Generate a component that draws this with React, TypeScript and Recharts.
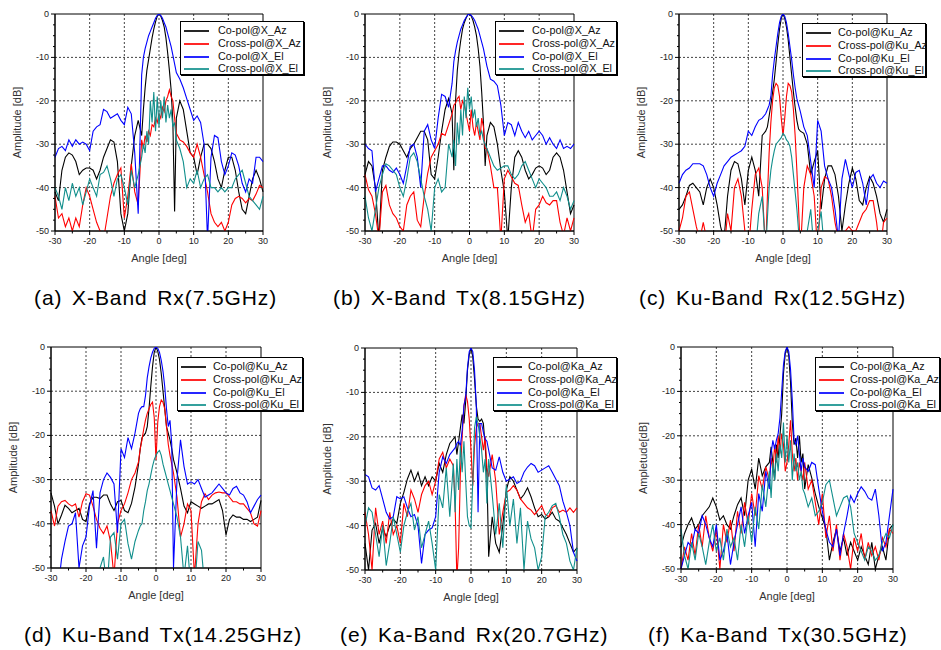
import { LineChart, Line, XAxis, YAxis, CartesianGrid, ReferenceArea } from "recharts";

// angle grid, finer near boresight
const angles = [-30, -29, -28, -27, -26, -25, -24, -23, -22, -21, -20, -19, -18, -17, -16, -15, -14, -13, -12, -11, -10, -9, -8, -7, -6,
  -5, -4.5, -4, -3.5, -3, -2.5, -2, -1.5, -1, -0.5, 0, 0.5, 1, 1.5, 2, 2.5, 3, 3.5, 4, 4.5, 5,
  6, 7, 8, 9, 10, 11, 12, 13, 14, 15, 16, 17, 18, 19, 20, 21, 22, 23, 24, 25, 26, 27, 28, 29, 30];

const xTicks = [-30, -25, -20, -15, -10, -5, 0, 5, 10, 15, 20, 25, 30];
const yTicks = [0, -2.5, -5, -7.5, -10, -12.5, -15, -17.5, -20, -22.5, -25, -27.5, -30, -32.5, -35, -37.5, -40, -42.5, -45, -47.5, -50];
const gridX = [-20, -10, 0, 10, 20];
const gridY = [-10, -20, -30, -40];

const pols = ["Co-pol", "Cross-pol", "Co-pol", "Cross-pol"];
const planes = ["Az", "Az", "El", "El"];
const colors = ["#000000", "#ff0000", "#0000ff", "#118f8c"];

// (a) X-Band Rx
const aCoAz = [-41, -43, -36, -33, -32, -32.5, -34, -37, -36, -35.5, -35.5, -36, -38, -36, -33, -31, -29, -29.5, -34, -46, -50, -46, -35, -28, -24.5,
  -28, -22, -17, -13, -10.5, -8, -5.5, -3.5, -1.8, -0.5, 0, -0.5, -1.5, -3, -5.5, -9, -13, -17.5, -25, -45.5, -24,
  -20, -22, -27, -32, -33, -37, -33, -30, -30, -31, -34, -38, -40, -36, -33, -33, -36, -41, -45, -46, -42, -38, -36, -38, -41];
const aXAz = [-42, -47, -46, -49, -47, -50, -47, -49, -44, -40, -42, -45, -48, -50, -52, -47, -42, -39, -37, -35.5, -47, -42, -34.5, -41, -44,
  -29, -31, -28, -29.5, -27, -28, -25.5, -26, -24, -25, -23, -24, -21.5, -22.5, -20, -19, -17.5, -19, -20, -24, -27.5,
  -29, -29.5, -30.5, -32, -33, -30, -33, -37, -41, -46, -48, -49, -48, -50, -48, -44, -42.5, -42, -42.5, -43.5, -42.5, -43, -41.5, -39.5, -40];
const aCoEl = [-33, -31, -30.5, -31.5, -29, -30.5, -29, -30, -29.5, -30, -31.5, -27, -26, -25.5, -22, -22.5, -24, -23.5, -23, -24.5, -25.5, -21.5, -23, -32, -46,
  -14, -10, -8, -6.5, -5, -4, -3, -2, -1, -0.3, 0, -0.3, -1, -2, -3, -4.5, -6, -7.5, -9.5, -11.5, -13.5,
  -15, -17, -19.5, -22, -24.5, -23.5, -25, -30, -52, -33, -28, -28.5, -34, -37, -35, -32, -32.5, -35, -39, -41, -38, -39, -33, -33, -34];
const aXEl = [-40, -42, -45, -40, -43, -39, -42, -40, -44, -41, -38, -40, -42, -37, -36.5, -35, -38, -42, -38, -37, -40, -44, -36, -40, -37,
  -33, -30, -32, -27, -30, -20, -25, -18, -27, -19, -26, -20, -24, -19, -25, -21, -24, -22, -26, -25, -29,
  -31, -34, -40, -38, -39, -36, -40, -38, -37, -40, -40, -41, -40, -41, -40, -40, -38, -37, -36, -39, -42, -43, -44, -45, -42];

// (b) X-Band Tx
const bCoAz = [-37, -34, -35, -40, -52, -36, -33, -30.5, -29.5, -29.5, -30, -31.5, -33, -31, -30, -28.5, -27, -27, -29, -37, -38, -33, -27, -22, -19.5,
  -23, -36, -20, -13, -9, -6, -3.5, -2, -1, -0.2, 0, -0.5, -1.5, -3, -5, -8, -12, -18, -25, -35, -28,
  -25, -26, -30, -36, -41, -52, -40, -33, -31.5, -33, -36, -38, -37, -35.5, -35, -35.5, -37, -36, -33, -32, -33, -36, -41, -46, -44];
const bXAz = [-37, -40.5, -42, -46, -52, -41, -39.5, -44, -46, -47, -49, -50, -44, -42, -41, -47.5, -49, -42, -36.7, -33, -31.5, -30, -27.5, -28, -25.5,
  -23, -21, -20.5, -19.5, -19, -22, -20, -21, -23, -25, -27, -22, -26, -28, -25, -27, -29, -24, -26, -31, -31,
  -35, -40, -40, -52, -38, -36, -37.5, -39, -39.5, -44, -48, -46, -52, -45, -44, -42, -43.5, -44, -43, -43, -48, -51, -47, -50, -47];
const bCoEl = [-30, -31, -31.5, -41, -38, -35, -35, -36, -36.5, -35.5, -37, -39, -35, -30.5, -30, -33, -40, -27, -25.5, -29, -31, -24, -18.5, -19, -21.5,
  -16, -11, -8.5, -6.5, -5, -3.5, -2.5, -1.5, -0.8, -0.2, 0, -0.3, -0.8, -1.5, -2.5, -3.5, -5, -6.5, -8, -10, -12,
  -15, -15.5, -16.5, -21, -28, -25, -25.5, -28, -25, -27, -28.5, -27, -29, -28, -27, -28, -30, -28.5, -30, -31, -29, -31, -30.5, -31, -30];
const bXEl = [-42, -47, -50, -45, -40, -37, -34.5, -35, -36, -37, -40, -42, -38, -33, -32, -34, -38, -42, -45, -50, -40, -38, -41, -40, -30,
  -33, -29, -35, -25, -30, -22, -28, -19, -24, -17, -22, -19, -24, -22, -26, -24, -28, -27, -29, -30, -31,
  -33, -35, -36, -35.5, -35, -35, -37, -38, -37, -35, -34, -36, -38, -40, -38, -39, -40, -42, -42, -41, -43, -40, -42, -45, -43];

// (c) Ku-Band Rx
const cCoAz = [-45, -44, -42, -39.5, -39, -40, -41, -44, -40, -38, -40, -44, -49, -52, -42, -36, -34, -34.5, -38, -44, -36, -33, -36, -42, -28,
  -27, -26, -23.5, -21, -18, -15, -11, -7, -3.5, -1, 0, -1, -3, -6, -10, -14, -18, -21.5, -24.5, -26.5, -27,
  -27.5, -30, -37, -34, -31.5, -45, -38, -35, -35, -37, -42, -50, -44, -39, -35.5, -38, -43, -44, -40, -37.5, -39, -42, -46, -48, -45];
const cXAz = [-50, -47, -42, -41, -45, -49, -52, -48, -52, -55, -55, -55, -55, -55, -46, -50, -40, -38, -42, -50, -55, -45, -37, -35.5, -40,
  -55, -42, -32, -25, -20, -17, -16, -16.5, -19, -24, -28, -24, -19, -16, -16.5, -18, -22, -28, -36, -45, -55,
  -40, -35, -37, -42, -55, -40, -37.5, -38, -42, -48, -52, -55, -50, -49, -50, -50, -48, -46, -45, -43, -43, -48, -55, -48, -47];
const cCoEl = [-39, -37, -36, -35.5, -34.5, -34.5, -34.5, -35, -37, -40, -42, -39, -37, -35, -34, -33, -32.5, -32, -31.5, -30.5, -27, -28, -26, -24.5, -24,
  -23, -22, -21, -19, -14, -10.5, -7.5, -4.5, -2, -0.5, 0, -0.5, -2, -4.5, -7.5, -10.5, -14, -17, -19.5, -21, -22.5,
  -26, -28, -34, -40, -24.5, -27, -35, -38, -40, -45, -52, -38, -33.5, -37, -40, -36.5, -36, -39, -44, -38, -37, -39, -40, -38.5, -39];
const cXEl = [-55, -55, -55, -55, -55, -55, -55, -55, -55, -55, -55, -55, -55, -55, -55, -55, -55, -55, -55, -55, -55, -55, -55, -46, -42,
  -55, -47, -40, -36, -33.5, -31.5, -30, -29.5, -29, -28.5, -27.5, -28, -29, -29.5, -30.5, -33, -37, -41, -45, -50, -55,
  -55, -50, -45, -55, -50, -45.5, -55, -55, -55, -55, -55, -55, -55, -55, -55, -55, -55, -55, -55, -55, -55, -55, -55, -55, -55];

// (d) Ku-Band Tx
const dCoAz = [-33, -36, -40, -38, -35.8, -36.5, -37.5, -37, -36.5, -39, -39.5, -35.5, -34, -34, -34.3, -33.5, -33.5, -35.5, -37, -35, -34.7, -37, -37.5, -35.4, -31.7,
  -26.5, -23, -20.5, -20, -19.5, -18, -14, -9, -4.5, -1.2, 0, -1, -2.8, -6, -10, -14, -18, -19.5, -21, -23, -25.5,
  -28.5, -32, -36, -37.5, -35, -35.5, -36, -36.5, -36, -35.5, -35.5, -35, -34.5, -37, -42.5, -39, -38, -38.5, -38.5, -39, -39, -39.5, -39, -38.5, -34.7];
const dXAz = [-37, -40.5, -36, -35, -34.7, -35.5, -36, -35.5, -38.5, -35, -33.2, -33.5, -36, -39, -41, -42.2, -40.5, -44, -52, -40, -37, -35.5, -33, -30, -28.5,
  -26, -23, -21, -18.5, -16.5, -15, -14, -13, -12.5, -16, -25.5, -17, -13.5, -12, -12.5, -14, -18, -22, -24.5, -26.5, -28.5,
  -34, -43, -40, -35.5, -37, -52, -40, -35, -33.2, -34.5, -33.5, -33, -32.8, -33, -33, -34, -35, -35, -35.5, -35.5, -36.5, -37.5, -40, -40.5, -37];
const dCoEl = [-55, -55, -55, -48, -44, -40.5, -40, -37.5, -50, -45, -43, -36, -32.5, -45.5, -33, -30, -28.5, -29.5, -31, -42, -23, -25, -20.5, -23, -19.5,
  -15, -14, -13.5, -13.5, -11, -7, -4.5, -2.5, -1.2, -0.3, 0, -0.3, -1.2, -3, -5.5, -9, -14, -18, -16.6, -22, -50,
  -30, -21, -27, -31, -30.5, -31, -30, -32, -34, -33.5, -33, -32, -31, -32, -33, -33.5, -32, -31.5, -33, -33.5, -35, -37.5, -36, -34.5, -33.5];
const dXEl = [-55, -55, -55, -55, -55, -55, -55, -55, -55, -55, -55, -55, -55, -55, -50, -47.5, -55, -43, -42, -48, -40, -39, -44.5, -48, -44,
  -41.5, -40.5, -40, -37, -35, -32.5, -31, -29, -27, -25.5, -24.5, -23.8, -23.4, -24.5, -26.5, -28, -29.5, -31, -32.5, -34, -35.5,
  -38.5, -43, -52, -45, -55, -55, -44, -46, -55, -55, -55, -55, -55, -55, -55, -55, -55, -55, -55, -55, -55, -55, -55, -55, -55];

// (e) Ka-Band Rx
const eCoAz = [-44, -50, -41, -39.5, -44, -40.5, -42.5, -40, -38.5, -39.5, -35, -32.5, -29.5, -27.5, -30, -28, -31, -29, -31, -29, -30, -26, -28, -24, -21.5,
  -20.5, -20, -24, -21, -18, -15, -17, -12, -5, -1.5, 0, -2, -7, -13, -16, -16.5, -16, -17, -22, -28, -47,
  -38, -44, -46, -40, -32, -29, -30, -32, -34, -33, -31.5, -33.5, -36, -38, -37.5, -38.5, -38, -37, -38.5, -39, -40.5, -42, -44, -46, -45];
const eXAz = [-37, -42, -50, -36, -42, -39, -44, -37, -42, -40, -44, -35, -38, -32, -34, -37, -33, -31, -30, -33, -30, -25, -23.5, -27, -25,
  -26.5, -35, -52, -45, -28, -20, -13, -10.5, -12, -16, -23, -31, -22, -18, -17, -17, -20, -23, -20, -27, -29,
  -24, -30, -42, -37, -32.5, -32, -31, -32, -34, -35, -36, -36.5, -37.5, -36.5, -35.5, -37.5, -38, -36, -35.5, -37, -36.5, -37, -36, -37, -36];
const eCoEl = [-28.5, -29, -31.5, -32, -31, -34, -37, -38.5, -38, -33.5, -34, -33.5, -36, -38, -37.5, -40, -48.5, -42, -41, -40.5, -38, -28, -24.5, -26, -24,
  -23, -22.5, -21.5, -21, -22, -18.5, -13, -11, -4.5, -0.8, 0, -0.8, -5, -13, -37, -17, -17, -19, -20.5, -21, -23,
  -27, -27.5, -24.5, -28, -30, -29.5, -29, -30.5, -30, -28, -26.8, -26, -26.5, -28, -27.5, -27, -26.5, -28, -29.5, -31, -34.5, -37, -40, -46, -48];
const eXEl = [-40, -36, -37, -42, -47, -40, -49, -44, -38, -42, -46, -40, -37, -35, -41, -38, -45, -42, -39, -44, -50, -33, -36, -27, -38,
  -26, -37, -25, -32, -22, -28, -21, -30, -38, -40, -40.5, -30, -18, -15.5, -17, -20, -23, -28, -25, -35, -25,
  -33, -42, -35, -45, -31, -40, -34, -44, -36, -50, -39, -43, -45, -50, -47, -38, -37, -35.5, -35, -38, -42, -44, -48, -50, -45];

// (f) Ka-Band Tx
const fCoAz = [-45, -42, -40, -38.5, -41, -40, -38, -37, -36, -34, -36, -39, -38, -40, -41, -38, -35.5, -34, -38, -30, -27.5, -32, -25, -29, -27,
  -26, -22.5, -26, -30, -22, -25, -20, -15, -6, -1.5, 0, -2, -8, -17, -22, -20.5, -25, -20, -26, -24, -32,
  -26.5, -29.5, -33, -36, -38.5, -41, -48, -44, -41, -46, -43, -47, -44, -46, -48, -45, -47, -49, -44, -50, -47, -45, -48, -41, -40];
const fXAz = [-50, -45, -48, -42, -47, -40, -45, -38, -43, -46, -41, -50, -40, -44, -39, -46, -37, -42, -35, -40, -33, -38, -29, -32, -27,
  -30, -25, -28, -22, -26, -20, -24, -19.5, -22, -28, -26, -22, -16.5, -24, -28, -25, -30, -26, -28, -30, -26,
  -32, -30, -35, -40, -33, -43, -38, -46, -40, -48, -42, -45, -50, -43, -46, -42, -48, -44, -47, -45, -48, -43, -45, -41, -42];
const fCoEl = [-50, -47, -44, -45, -41, -42, -38, -40, -43, -45, -40, -48, -46, -42, -49, -44, -40, -36, -42, -38, -35, -45, -33, -37, -28,
  -32, -24, -21, -23, -21, -19.5, -16, -10, -4, -1, 0, -1, -5, -12, -21, -22, -20, -24, -28, -25, -27,
  -28, -26, -26.5, -32, -37, -41, -44, -45, -41, -47, -42, -38, -33.5, -35, -33, -31.5, -32.5, -34, -34.5, -32, -38, -46, -44, -38, -32];
const fXEl = [-41, -47, -50, -44, -48, -42, -45, -49, -44, -40, -46, -43, -48, -41, -45, -43, -48, -40, -45, -38, -44, -36, -41, -31, -36,
  -28, -34, -26, -30, -24, -28, -22, -25, -17, -26, -20, -26, -21, -30, -24, -28, -26, -30, -28, -32, -33,
  -36, -34, -38, -37, -35, -31, -30, -34, -38, -36, -34, -33.5, -36, -42, -44, -46, -48, -45, -46, -48, -47, -44, -42, -43, -40];

const panels = [
  { band: "X", left: 55, top: 14, w: 208, h: 217, yLabel: "Amplitude [dB]", caption: "(a) X-Band Rx(7.5GHz)", capX: 34, capY: 298, lg: { x: 180, y: 21, w: 124, tx: 37 }, series: [aCoAz, aXAz, aCoEl, aXEl] },
  { band: "X", left: 365, top: 14, w: 209, h: 217, yLabel: "Amplitude [dB]", caption: "(b) X-Band Tx(8.15GHz)", capX: 333, capY: 298, lg: { x: 495, y: 21, w: 122, tx: 36 }, series: [bCoAz, bXAz, bCoEl, bXEl] },
  { band: "Ku", left: 679, top: 14, w: 208, h: 217, yLabel: "Amplitude [dB]", caption: "(c) Ku-Band Rx(12.5GHz)", capX: 639, capY: 298, lg: { x: 802, y: 23, w: 124, tx: 35 }, series: [cCoAz, cXAz, cCoEl, cXEl] },
  { band: "Ku", left: 51, top: 347, w: 210, h: 221, yLabel: "Amplitude [dB]", caption: "(d) Ku-Band Tx(14.25GHz)", capX: 24, capY: 635, lg: { x: 177, y: 357, w: 126, tx: 35 }, series: [dCoAz, dXAz, dCoEl, dXEl] },
  { band: "Ka", left: 365, top: 348, w: 212, h: 222, yLabel: "Amplitude [dB]", caption: "(e) Ka-Band Rx(20.7GHz)", capX: 340, capY: 635, lg: { x: 493, y: 357, w: 124, tx: 34 }, series: [eCoAz, eXAz, eCoEl, eXEl] },
  { band: "Ka", left: 681, top: 347, w: 212, h: 222, yLabel: "Ampletude[dB]", caption: "(f) Ka-Band Tx(30.5GHz)", capX: 648, capY: 635, lg: { x: 815, y: 357, w: 125, tx: 34 }, series: [fCoAz, fXAz, fCoEl, fXEl] },
];

const legendRows = [2, 15, 28, 40];

const axisFont = "'Liberation Sans', Arial, sans-serif";

const XTick = (props: any) => {
  const { x, y, payload } = props;
  const v = payload.value;
  const major = v % 10 === 0;
  return (
    <g>
      <line x1={x} y1={y} x2={x} y2={y + (major ? 4 : 2.5)} stroke="#000" />
      {major && (
        <text x={x} y={y + 13} textAnchor="middle" fontSize={9} fill="#222" fontFamily={axisFont}>
          {v}
        </text>
      )}
    </g>
  );
};

const YTick = (props: any) => {
  const { x, y, payload } = props;
  const v = payload.value;
  const major = v % 10 === 0;
  return (
    <g>
      <line x1={x} y1={y} x2={x - (major ? 4 : 2)} y2={y} stroke="#000" />
      {major && (
        <text x={x - 6} y={y + 3} textAnchor="end" fontSize={9} fill="#222" fontFamily={axisFont}>
          {v}
        </text>
      )}
    </g>
  );
};

const keys = ["coAz", "xAz", "coEl", "xEl"];

const Panel = ({ p }: { p: (typeof panels)[number] }) => {
  const data = angles.map((a, i) => ({
    angle: a,
    coAz: p.series[0][i],
    xAz: p.series[1][i],
    coEl: p.series[2][i],
    xEl: p.series[3][i],
  }));
  const chartW = 50 + p.w + 10;
  const chartH = 8 + p.h + 36;
  return (
    <>
      <div style={{ position: "absolute", left: p.left - 50, top: p.top - 8 }}>
        <LineChart width={chartW} height={chartH} data={data} margin={{ top: 8, right: 10, left: 0, bottom: 0 }}>
          <CartesianGrid horizontalValues={gridY} verticalValues={gridX} stroke="#111" strokeDasharray="2 2" strokeWidth={0.8} />
          <XAxis
            dataKey="angle"
            type="number"
            domain={[-30, 30]}
            ticks={xTicks}
            interval={0}
            height={36}
            tickLine={false}
            tickSize={0}
            tickMargin={0}
            axisLine={{ stroke: "#000" }}
            tick={(t: any) => <XTick {...t} />}
            label={{ value: "Angle [deg]", position: "insideBottom", offset: 5, style: { fontSize: 11, fill: "#333", fontFamily: axisFont } }}
          />
          <YAxis
            type="number"
            domain={[-50, 0]}
            ticks={yTicks}
            interval={0}
            allowDataOverflow
            width={50}
            tickLine={false}
            tickSize={0}
            tickMargin={0}
            axisLine={{ stroke: "#000" }}
            tick={(t: any) => <YTick {...t} />}
            label={{ value: p.yLabel, angle: -90, position: "insideLeft", offset: 12, style: { textAnchor: "middle", fontSize: 11, fill: "#333", fontFamily: axisFont } }}
          />
          <ReferenceArea x1={-30} x2={30} y1={-50} y2={0} fill="none" stroke="#000" strokeWidth={1} />
          {keys.map((k, i) => (
            <Line key={k} type="linear" dataKey={k} stroke={colors[i]} strokeWidth={1.1} dot={false} isAnimationActive={false} />
          ))}
        </LineChart>
      </div>
      <div
        style={{
          position: "absolute",
          left: p.lg.x,
          top: p.lg.y,
          width: p.lg.w,
          height: 54,
          boxSizing: "border-box",
          border: "1px solid #000",
          boxShadow: "1px 1px 0 #000",
          background: "#fff",
          fontFamily: axisFont,
          fontSize: 10.8,
          color: "#111",
        }}
      >
        {keys.map((k, i) => (
          <div key={k} style={{ position: "absolute", left: 0, top: legendRows[i], height: 13, width: "100%", whiteSpace: "nowrap" }}>
            <div style={{ position: "absolute", left: 3, top: 6, width: 25, height: 2, background: colors[i], opacity: 0.85 }} />
            <span style={{ position: "absolute", left: p.lg.tx, top: 0, lineHeight: "13px" }}>
              {pols[i]}@{p.band}_{planes[i]}
            </span>
          </div>
        ))}
      </div>
      <div
        style={{
          position: "absolute",
          left: p.capX,
          top: p.capY - 12,
          fontSize: 21,
          lineHeight: "24px",
          letterSpacing: 0.9,
          wordSpacing: 3,
          fontFamily: axisFont,
          whiteSpace: "nowrap",
          color: "#000",
        }}
      >
        {p.caption}
      </div>
    </>
  );
};

export default function App() {
  return (
    <div style={{ position: "absolute", left: 0, top: 0, width: 941, height: 650, background: "#fff", overflow: "hidden" }}>
      {panels.map((p, i) => (
        <Panel key={i} p={p} />
      ))}
    </div>
  );
}
